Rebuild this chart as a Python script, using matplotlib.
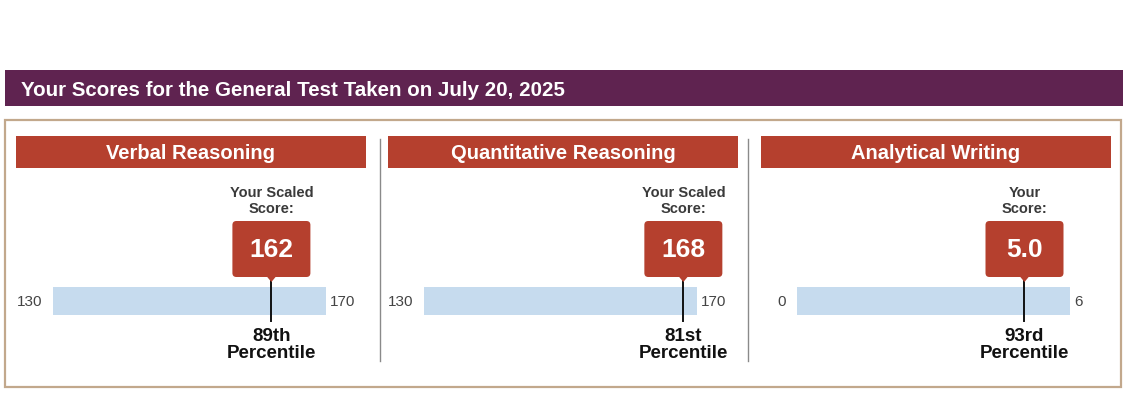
import matplotlib
matplotlib.use('Agg')
import matplotlib.pyplot as plt
from matplotlib.patches import Rectangle, FancyBboxPatch, Polygon

plt.rcParams['font.family'] = ['Liberation Sans', 'DejaVu Sans']

# data
title = 'Your Scores for the General Test Taken on July 20, 2025'
sections = ['Verbal Reasoning', 'Quantitative Reasoning', 'Analytical Writing']
scores = [162, 168, 5.0]
score_labels = ['162', '168', '5.0']
scale_min = [130, 130, 0]
scale_max = [170, 170, 6]
percentiles = ['89th', '81st', '93rd']
captions = ['Your Scaled\nScore:', 'Your Scaled\nScore:', 'Your\nScore:']

# layout (pixels)
W, H = 1138, 410
header_x = [16, 388, 761]
header_w = 350
bar_left = [53, 424, 797]
bar_w = 273
dividers = [380, 748]

purple = '#5f2350'
red = '#b5402e'
bar_col = '#c6dbee'
border = '#c2a88c'

fig = plt.figure(figsize=(W / 100, H / 100), dpi=100)
bg = fig.add_axes([0, 0, 1, 1])
bg.set_xlim(0, W)
bg.set_ylim(H, 0)
bg.axis('off')
bg.set_zorder(5)  # keep markers above the bar axes

# banner
bg.add_patch(Rectangle((5, 71), 1118, 36, color=purple, lw=0))
bg.text(21, 90, title, color='white', fontsize=14.8, fontweight='bold', va='center', ha='left')

# outer frame
bg.add_patch(Rectangle((5, 121), 1116, 267, fill=False, ec=border, lw=1.6))

for x in dividers:
    bg.plot([x, x], [140, 362], color='#8a8a8a', lw=1)

for i, name in enumerate(sections):
    hx = header_x[i]
    bg.add_patch(Rectangle((hx, 137), header_w, 32, color=red, lw=0))
    bg.text(hx + header_w / 2, 153.5, name, color='white', fontsize=14.5,
            fontweight='bold', ha='center', va='center')

    lo, hi = scale_min[i], scale_max[i]
    ax = fig.add_axes([bar_left[i] / W, 1 - 316 / H, bar_w / W, 28 / H])
    ax.set_xlim(lo, hi)
    ax.set_ylim(0, 1)
    ax.axis('off')
    ax.barh(0.5, hi - lo, left=lo, height=1, color=bar_col)

    # end labels
    ax.annotate(str(lo), (lo, 0.5), xytext=(-11, 0), textcoords='offset pixels',
                ha='right', va='center', fontsize=11, color='#444444', annotation_clip=False)
    ax.annotate(str(hi), (hi, 0.5), xytext=(4, 0), textcoords='offset pixels',
                ha='left', va='center', fontsize=11, color='#444444', annotation_clip=False)

    # score position in background pixel coords
    disp = ax.transData.transform((scores[i], 0.5))
    sx = bg.transData.inverted().transform(disp)[0]

    bg.plot([sx, sx], [279, 322], color='#111111', lw=1.4, zorder=2)
    bg.add_patch(FancyBboxPatch((sx - 39, 222), 78, 56,
                                boxstyle='round,pad=0,rounding_size=4',
                                color=red, lw=0, zorder=3))
    bg.add_patch(Polygon([(sx - 5, 277), (sx + 5, 277), (sx, 283)],
                         closed=True, color=red, lw=0, zorder=3))
    bg.text(sx, 250, score_labels[i], color='white', fontsize=19, fontweight='bold',
            ha='center', va='center', zorder=4)
    bg.text(sx, 201, captions[i], color='#3a3a3a', fontsize=10.5, fontweight='bold',
            ha='center', va='center', linespacing=1.2)
    bg.text(sx, 345, percentiles[i] + '\nPercentile', color='#111111', fontsize=13.5,
            fontweight='bold', ha='center', va='center', linespacing=1.0)

fig.savefig('out.png', dpi=100, facecolor='white')
